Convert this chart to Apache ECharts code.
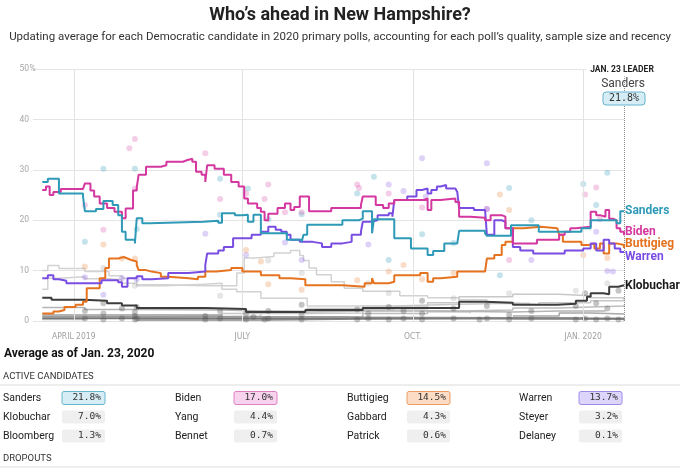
<!DOCTYPE html>
<html><head><meta charset="utf-8">
<script src="https://cdn.jsdelivr.net/npm/echarts@6/dist/echarts.min.js"></script>
<style>html,body{margin:0;padding:0;background:#fff}#c{width:680px;height:472px}</style>
</head><body><div id="c"></div><script>
const xStart = '2019-03-10';
const xEnd = '2020-01-23';
const quarterTicks = ['2019-04-01','2019-07-01','2019-10-01','2020-01-01'];
const quarterLabels = ['APRIL 2019','JULY','OCT.','JAN. 2020'];
const yMax = 50;

const sanders = [['2019-03-15',27.6],['2019-03-18',28.2],['2019-03-24',25.3],['2019-04-06',24.7],['2019-04-07',21.8],['2019-04-13',22.2],['2019-04-17',23.8],['2019-04-22',23.0],['2019-04-25',21.0],['2019-04-27',17.7],['2019-04-29',16.1],['2019-05-04',15.4],['2019-05-05',20.4],['2019-05-08',19.4],['2019-05-12',19.7],['2019-06-10',19.9],['2019-06-18',19.5],['2019-06-20',21.4],['2019-06-27',21.0],['2019-07-01',21.1],['2019-07-04',19.7],['2019-07-07',21.1],['2019-07-11',17.4],['2019-07-25',16.1],['2019-08-02',15.7],['2019-08-03',17.1],['2019-08-05',19.1],['2019-08-24',20.0],['2019-09-02',20.3],['2019-09-04',21.8],['2019-09-09',17.4],['2019-09-10',20.2],['2019-09-21',16.4],['2019-09-30',14.4],['2019-10-09',13.1],['2019-10-12',13.9],['2019-10-18',15.4],['2019-10-25',15.7],['2019-10-26',17.9],['2019-11-09',17.4],['2019-11-10',16.9],['2019-11-23',19.0],['2019-12-08',17.7],['2019-12-31',18.4],['2020-01-05',20.0],['2020-01-19',19.4],['2020-01-21',21.8],['2020-01-23',21.8]];
const biden = [['2019-03-15',26.0],['2019-03-17',26.7],['2019-03-19',25.0],['2019-03-21',25.6],['2019-03-25',26.2],['2019-04-06',26.5],['2019-04-07',27.3],['2019-04-10',25.9],['2019-04-12',24.7],['2019-04-15',23.3],['2019-04-19',22.4],['2019-04-23',21.7],['2019-04-27',20.4],['2019-04-29',22.3],['2019-05-03',25.9],['2019-05-05',26.5],['2019-05-06',29.0],['2019-05-10',30.6],['2019-05-18',30.9],['2019-05-21',31.6],['2019-05-30',31.9],['2019-06-01',32.2],['2019-06-04',31.6],['2019-06-06',29.6],['2019-06-09',29.0],['2019-06-11',27.6],['2019-06-12',30.9],['2019-06-16',30.2],['2019-06-21',29.0],['2019-06-25',27.6],['2019-06-29',26.7],['2019-07-02',24.3],['2019-07-04',23.3],['2019-07-09',22.4],['2019-07-11',21.7],['2019-07-13',20.0],['2019-07-15',21.3],['2019-07-20',22.4],['2019-07-24',23.3],['2019-07-27',22.0],['2019-07-29',22.6],['2019-08-01',24.7],['2019-08-06',21.8],['2019-08-18',22.4],['2019-09-03',23.0],['2019-09-04',24.7],['2019-09-11',23.0],['2019-09-15',22.4],['2019-09-18',23.3],['2019-09-21',24.0],['2019-10-07',24.3],['2019-10-09',22.0],['2019-10-11',24.0],['2019-10-16',24.3],['2019-10-24',23.6],['2019-10-26',20.7],['2019-11-01',20.5],['2019-11-09',20.0],['2019-11-12',21.0],['2019-11-18',20.7],['2019-11-20',18.4],['2019-11-24',15.4],['2019-12-07',16.1],['2019-12-19',17.1],['2019-12-22',17.7],['2019-12-25',18.4],['2019-12-28',18.7],['2020-01-05',21.7],['2020-01-08',21.0],['2020-01-10',20.7],['2020-01-13',22.0],['2020-01-15',20.3],['2020-01-17',20.0],['2020-01-19',18.4],['2020-01-21',17.7],['2020-01-23',17.0]];
const warren = [['2019-03-15',8.5],['2019-03-18',9.1],['2019-03-21',8.3],['2019-03-24',8.0],['2019-03-28',7.5],['2019-04-16',8.1],['2019-04-25',7.7],['2019-04-27',6.8],['2019-04-30',8.5],['2019-05-05',8.9],['2019-05-08',8.3],['2019-05-13',8.5],['2019-05-22',9.5],['2019-06-02',9.8],['2019-06-11',11.1],['2019-06-12',13.4],['2019-06-18',14.0],['2019-06-21',14.7],['2019-06-26',16.4],['2019-07-06',17.1],['2019-07-11',17.7],['2019-07-15',18.7],['2019-07-19',18.1],['2019-07-22',17.7],['2019-07-25',17.1],['2019-07-27',16.1],['2019-08-01',15.7],['2019-08-08',15.4],['2019-08-13',14.7],['2019-08-18',15.4],['2019-08-24',15.7],['2019-08-29',17.1],['2019-09-03',17.7],['2019-09-04',19.7],['2019-09-08',20.0],['2019-09-12',21.0],['2019-09-18',21.4],['2019-09-20',20.7],['2019-09-21',24.0],['2019-09-28',24.7],['2019-10-03',26.0],['2019-10-06',26.3],['2019-10-09',25.3],['2019-10-11',26.0],['2019-10-14',26.7],['2019-10-16',27.0],['2019-10-19',26.3],['2019-10-24',26.0],['2019-10-25',25.6],['2019-10-26',22.4],['2019-11-03',22.0],['2019-11-09',21.7],['2019-11-10',17.1],['2019-11-14',20.0],['2019-11-18',19.7],['2019-11-20',18.4],['2019-11-24',14.7],['2019-11-28',14.0],['2019-12-05',13.4],['2019-12-22',14.0],['2020-01-01',14.4],['2020-01-05',15.4],['2020-01-08',14.0],['2020-01-12',16.1],['2020-01-15',15.4],['2020-01-18',14.4],['2020-01-21',13.7],['2020-01-23',13.7]];
const buttigieg = [['2019-03-15',1.5],['2019-03-21',1.9],['2019-03-24',2.2],['2019-03-27',2.8],['2019-04-02',3.2],['2019-04-06',3.8],['2019-04-08',6.5],['2019-04-15',8.5],['2019-04-18',10.5],['2019-04-20',12.4],['2019-04-25',12.7],['2019-04-28',12.4],['2019-04-30',12.1],['2019-05-02',11.8],['2019-05-05',11.1],['2019-05-06',10.1],['2019-05-10',9.8],['2019-05-13',9.5],['2019-05-18',8.8],['2019-05-22',8.5],['2019-06-02',8.3],['2019-06-07',8.8],['2019-06-11',9.8],['2019-06-17',10.1],['2019-06-25',10.5],['2019-07-01',9.8],['2019-07-11',9.1],['2019-07-21',8.5],['2019-07-27',8.3],['2019-08-04',7.1],['2019-08-24',6.8],['2019-09-05',7.5],['2019-09-09',8.5],['2019-09-10',7.5],['2019-09-18',7.8],['2019-09-21',9.1],['2019-10-05',9.5],['2019-10-09',7.8],['2019-10-12',8.5],['2019-10-16',8.8],['2019-10-25',9.8],['2019-11-09',10.1],['2019-11-10',12.4],['2019-11-14',13.1],['2019-11-18',15.1],['2019-11-20',15.7],['2019-11-24',18.4],['2019-11-30',18.7],['2019-12-09',18.4],['2019-12-18',18.1],['2019-12-19',17.1],['2019-12-21',15.7],['2019-12-31',15.1],['2020-01-04',15.4],['2020-01-07',14.4],['2020-01-10',15.4],['2020-01-12',13.4],['2020-01-15',15.4],['2020-01-19',15.1],['2020-01-23',14.5]];
const klobuchar = [['2019-03-15',4.6],['2019-03-20',4.2],['2019-04-06',4.0],['2019-04-19',3.5],['2019-04-27',3.1],['2019-05-05',2.6],['2019-06-11',2.4],['2019-07-03',1.8],['2019-08-04',2.2],['2019-09-04',2.6],['2019-10-26',3.8],['2019-11-09',3.6],['2019-11-24',3.2],['2019-12-18',3.4],['2019-12-28',4.0],['2020-01-03',4.8],['2020-01-05',5.5],['2020-01-12',5.3],['2020-01-15',6.8],['2020-01-20',7.1],['2020-01-23',7.0]];

const orourke = [['2019-03-15',10.0],['2019-03-18',11.0],['2019-03-24',10.4],['2019-04-07',9.8],['2019-04-20',9.0],['2019-04-27',8.5],['2019-05-05',7.2],['2019-05-20',7.0],['2019-06-10',7.0],['2019-06-20',6.3],['2019-06-28',5.8],['2019-07-11',4.5],['2019-08-05',3.0],['2019-09-04',2.2],['2019-10-09',1.8],['2019-11-01',1.5]];
const harris = [['2019-03-15',6.3],['2019-03-18',8.5],['2019-03-24',8.8],['2019-04-07',8.4],['2019-04-20',8.2],['2019-04-27',7.5],['2019-05-05',7.0],['2019-05-20',7.3],['2019-06-10',7.5],['2019-06-20',7.0],['2019-06-28',9.5],['2019-07-02',12.5],['2019-07-08',12.8],['2019-07-18',13.5],['2019-07-27',14.0],['2019-08-01',13.0],['2019-08-03',12.0],['2019-08-06',10.5],['2019-08-10',9.2],['2019-08-18',7.8],['2019-08-25',6.5],['2019-09-04',5.9],['2019-09-24',5.0],['2019-10-09',4.6],['2019-10-26',4.2],['2019-11-10',3.5],['2019-12-03',3.0]];
const yang = [['2019-03-15',0.3],['2019-04-07',0.8],['2019-05-05',1.0],['2019-06-20',1.5],['2019-07-11',2.0],['2019-08-05',2.5],['2019-09-04',3.0],['2019-09-21',3.3],['2019-10-26',3.5],['2019-11-24',3.2],['2019-12-08',3.6],['2020-01-05',4.0],['2020-01-23',4.4]];
const gabbard = [['2019-03-15',0.8],['2019-05-05',0.9],['2019-06-20',1.0],['2019-07-11',1.5],['2019-08-05',1.6],['2019-09-04',2.3],['2019-09-21',2.8],['2019-10-09',3.6],['2019-10-26',4.8],['2019-11-24',5.3],['2019-12-19',5.0],['2020-01-05',4.6],['2020-01-23',4.3]];
const steyer = [['2019-07-11',0.3],['2019-08-05',0.8],['2019-09-04',1.5],['2019-10-09',2.0],['2019-10-26',2.2],['2019-11-24',2.6],['2019-12-19',2.8],['2020-01-05',3.0],['2020-01-23',3.2]];
const booker = [['2019-03-15',2.7],['2019-04-07',2.3],['2019-05-05',2.2],['2019-06-20',2.0],['2019-07-11',1.8],['2019-08-05',2.0],['2019-09-04',2.0],['2019-10-09',1.8],['2019-11-24',2.0],['2019-12-19',2.0],['2020-01-13',1.9]];
const bloomberg = [['2019-11-24',1.0],['2019-12-19',1.6],['2020-01-05',1.4],['2020-01-23',1.3]];
const bennet = [['2019-05-05',0.2],['2019-07-11',0.4],['2019-09-04',0.6],['2019-11-24',0.5],['2020-01-23',0.7]];
const patrick = [['2019-11-24',0.5],['2020-01-23',0.6]];
const delaney = [['2019-03-15',0.5],['2019-09-04',0.4],['2020-01-23',0.1]];
const castro = [['2019-03-15',0.8],['2019-07-11',0.6],['2020-01-02',0.5]];
const gillibrand = [['2019-03-15',1.2],['2019-06-20',0.8],['2019-08-28',0.5]];

const sandersPolls = [['2019-04-07',15.7],['2019-04-17',30.2],['2019-05-04',30.2],['2019-05-05',18.2],['2019-06-19',28.2],['2019-06-19',21.1],['2019-07-04',26.3],['2019-07-15',20.2],['2019-08-02',21.2],['2019-09-01',25.3],['2019-09-10',28.6],['2019-09-18',12.1],['2019-10-06',17.2],['2019-10-23',15.5],['2019-11-17',9.1],['2019-11-22',26.4],['2019-12-04',20.0],['2020-01-01',27.2],['2020-01-08',23.0],['2020-01-14',29.4]];
const bidenPolls = [['2019-04-07',23.0],['2019-04-17',18.1],['2019-05-01',34.3],['2019-05-04',36.1],['2019-05-04',26.3],['2019-06-11',33.3],['2019-06-19',24.2],['2019-07-03',25.3],['2019-07-13',24.2],['2019-07-15',27.1],['2019-07-24',21.6],['2019-08-02',21.6],['2019-09-01',27.1],['2019-09-02',26.4],['2019-09-18',25.3],['2019-10-06',22.5],['2019-11-10',22.2],['2019-11-22',12.1],['2020-01-02',25.1],['2020-01-08',26.5],['2020-01-10',20.2]];
const warrenPolls = [['2019-04-07',8.7],['2019-04-17',5.2],['2019-04-27',8.5],['2019-05-05',8.3],['2019-06-11',17.3],['2019-07-03',13.1],['2019-07-24',15.6],['2019-08-02',12.1],['2019-09-07',15.2],['2019-09-18',27.1],['2019-09-26',25.8],['2019-10-06',32.3],['2019-10-08',24.7],['2019-11-10',31.3],['2019-11-10',22.2],['2019-12-04',12.1],['2020-01-08',17.7],['2020-01-14',9.9],['2020-01-17',9.8]];
const buttigiegPolls = [['2019-04-07',10.8],['2019-04-17',15.2],['2019-04-27',12.4],['2019-05-04',12.4],['2019-07-03',14.1],['2019-07-11',11.8],['2019-07-15',7.3],['2019-08-02',6.2],['2019-09-01',8.1],['2019-09-18',9.8],['2019-09-26',11.1],['2019-10-06',8.3],['2019-10-23',9.5],['2019-11-17',25.1],['2019-11-22',22.0],['2020-01-01',13.1],['2020-01-14',12.5]];
const otherPolls = [['2019-04-07',0.5],['2019-04-07',2.0],['2019-04-17',0.3],['2019-04-17',1.5],['2019-04-17',3.5],['2019-04-27',0.5],['2019-04-27',2.5],['2019-05-04',0.3],['2019-05-04',1.0],['2019-05-04',1.8],['2019-05-05',0.5],['2019-05-05',2.8],['2019-06-11',0.3],['2019-06-11',1.0],['2019-06-19',0.5],['2019-06-19',2.0],['2019-07-03',0.3],['2019-07-03',1.5],['2019-07-07',0.8],['2019-07-13',0.3],['2019-07-15',0.5],['2019-07-15',2.0],['2019-08-02',0.3],['2019-08-02',1.2],['2019-08-02',3.2],['2019-09-01',0.3],['2019-09-01',2.3],['2019-09-07',0.5],['2019-09-07',1.5],['2019-09-18',0.3],['2019-09-18',2.8],['2019-09-26',0.5],['2019-09-26',2.0],['2019-10-06',0.3],['2019-10-06',1.5],['2019-10-06',4.0],['2019-10-23',0.5],['2019-10-23',2.5],['2019-11-06',0.3],['2019-11-10',0.5],['2019-11-10',3.0],['2019-11-22',0.3],['2019-11-22',1.2],['2019-12-04',0.5],['2019-12-04',2.0],['2019-12-28',0.3],['2019-12-28',3.0],['2020-01-02',0.5],['2020-01-02',5.5],['2020-01-08',0.3],['2020-01-08',3.5],['2020-01-14',0.5],['2020-01-14',2.5],['2020-01-20',0.3],['2020-01-20',6.0]];
const lightPolls = [['2019-04-17',10.5],['2019-05-04',7.0],['2019-06-19',5.0],['2019-07-15',12.0],['2019-08-02',9.5],['2019-09-07',7.5],['2019-09-18',5.5],['2019-10-23',4.5],['2019-11-22',5.5],['2019-12-28',6.0],['2020-01-14',7.5]];

const tableNames = ['Sanders','Biden','Buttigieg','Warren','Klobuchar','Yang','Gabbard','Steyer','Bloomberg','Bennet','Patrick','Delaney'];
const tableValues = [21.8,17.0,14.5,13.7,7.0,4.4,4.3,3.2,1.3,0.7,0.6,0.1];
const leaderName = 'Sanders';
const leaderValue = 21.8;

const C = {sanders:'#2f9ab8', biden:'#d4379f', buttigieg:'#e5731f', warren:'#7a4de2', klobuchar:'#3d3d3d'};
const FILL = {Sanders:['#d6edf5','#66b5cd'], Biden:['#f8d3ee','#df80c6'], Buttigieg:['#fcdcc4','#eb9b63'], Warren:['#ddd5fb','#a08ae8']};

function ts(s){const [y,m,d]=s.split('-').map(Number);return new Date(y,m-1,d).getTime();}
function pts(a){return a.map(p=>[ts(p[0]),p[1]]);}
const qTs = quarterTicks.map(ts);

const chart = echarts.init(document.getElementById('c'), null, {renderer:'canvas'});
const FF = 'Roboto, sans-serif';

function grayLine(name, data, color, w){
  return {name, type:'line', step:'end', data:pts(data), showSymbol:false, symbol:'none', z:1,
    lineStyle:{color, width:w||1.5}, silent:true, animation:false};
}
function mainLine(name, data, color, dy){
  return {name, type:'line', step:'end', data:pts(data), showSymbol:false, symbol:'none', z:5,
    lineStyle:{color, width:2}, silent:true, animation:false,
    endLabel:{show:true, formatter:name, color: name==='Klobuchar' ? '#1a1a1a' : color, fontWeight:'bold', fontSize:12, fontFamily:FF, distance:1, offset:[0,dy]}};
}
function dots(data, color, op){
  return {type:'scatter', data:pts(data), symbolSize:6, z:2, silent:true, animation:false,
    itemStyle:{color, opacity:op}};
}

const option = {
  animation:false,
  backgroundColor:'#fff',
  title:{text:'Who’s ahead in New Hampshire?', subtext:'Updating average for each Democratic candidate in 2020 primary polls, accounting for each poll’s quality, sample size and recency',
    left:'center', top:1, itemGap:7,
    textStyle:{fontFamily:FF, fontWeight:'bold', fontSize:18, color:'#222'},
    subtextStyle:{fontFamily:FF, fontSize:11.5, color:'#333'}},
  grid:{left:33, right:56, top:69, bottom:151},
  xAxis:{type:'time', min:ts(xStart), max:ts(xEnd),
    axisLine:{show:false}, axisTick:{show:false}, splitLine:{show:false},
    axisLabel:{show:false}},
  yAxis:{type:'value', min:0, max:yMax, interval:10,
    axisLine:{show:false}, axisTick:{show:false},
    splitLine:{lineStyle:{color:'#e4e4e4', width:1}},
    axisLabel:{color:'#a8a8a8', fontSize:8.5, fontFamily:FF, margin:4}},
  series:[
    {type:'line', data:[], z:0, silent:true,
      markLine:{silent:true, symbol:'none', animation:false, label:{show:false},
        lineStyle:{color:'#e2e2e2', type:'solid', width:1},
        data:qTs.map(t=>({xAxis:t}))}},
    grayLine('O’Rourke', orourke, '#d2d2d2'),
    grayLine('Harris', harris, '#d2d2d2'),
    grayLine('Yang', yang, '#c8c8c8'),
    grayLine('Gabbard', gabbard, '#c8c8c8'),
    grayLine('Steyer', steyer, '#bdbdbd'),
    grayLine('Booker', booker, '#b5b5b5'),
    grayLine('Bloomberg', bloomberg, '#a8a8a8'),
    grayLine('Bennet', bennet, '#8a8a8a'),
    grayLine('Patrick', patrick, '#8a8a8a'),
    grayLine('Delaney', delaney, '#777'),
    grayLine('Castro', castro, '#8a8a8a'),
    grayLine('Gillibrand', gillibrand, '#9a9a9a'),
    dots(lightPolls, '#9a9a9a', 0.25),
    dots(otherPolls, '#555', 0.35),
    dots(sandersPolls, C.sanders, 0.28),
    dots(bidenPolls, C.biden, 0.25),
    dots(warrenPolls, C.warren, 0.25),
    dots(buttigiegPolls, C.buttigieg, 0.25),
    mainLine('Klobuchar', klobuchar, C.klobuchar, 0),
    mainLine('Buttigieg', buttigieg, C.buttigieg, -4),
    mainLine('Warren', warren, C.warren, 5),
    mainLine('Biden', biden, C.biden, -3),
    Object.assign(mainLine('Sanders', sanders, C.sanders, 0), {
      markLine:{silent:true, symbol:'none', animation:false, label:{show:false},
        lineStyle:{color:'#8a8a8a', type:'dotted', width:1},
        data:[[{coord:[ts(xEnd),0]},{coord:[ts(xEnd),49]}]]}})
  ]
};
chart.setOption(option);

const g = [];
const px = (t,v)=>chart.convertToPixel({xAxisIndex:0, yAxisIndex:0}, [t, v]);
const leaderX = px(ts(xEnd),0)[0];
const y0 = px(ts(xEnd),0)[1];
const y50 = px(ts(xEnd),yMax)[1];
qTs.forEach((t,i)=>{
  g.push({type:'text', x:px(t,0)[0], y:y0+16, style:{text:quarterLabels[i], fill:'#a0a0a0', font:"8.5px 'Liberation Sans Narrow','DejaVu Sans Condensed',Roboto", textAlign:'center', textVerticalAlign:'middle'}});
});
g.push({type:'text', x:29.5, y:y50, style:{text:'%', fill:'#a8a8a8', font:'8.5px Roboto', textAlign:'left', textVerticalAlign:'middle'}});
g.push({type:'text', x:leaderX-2, y:70, z:10, style:{text:'JAN. 23 LEADER', fill:'#222', font:'bold 8.5px Roboto', textAlign:'center', textVerticalAlign:'middle', backgroundColor:'#fff', padding:[2,4]}});
g.push({type:'text', x:leaderX-1, y:84, z:10, style:{text:leaderName, fill:'#444', font:'12px Roboto', textAlign:'center', textVerticalAlign:'middle'}});
g.push({type:'rect', z:10, shape:{x:leaderX-21, y:92, width:42, height:13, r:3}, style:{fill:FILL.Sanders[0], stroke:FILL.Sanders[1], lineWidth:1}});
g.push({type:'text', x:leaderX, y:98.5, z:11, style:{text:leaderValue.toFixed(1)+'%', fill:'#333', font:"10px 'DejaVu Sans Mono'", textAlign:'center', textVerticalAlign:'middle'}});

g.push({type:'text', x:4, y:354, style:{text:'Average as of Jan. 23, 2020', fill:'#111', font:'bold 12px Roboto', textAlign:'left', textVerticalAlign:'middle'}});
g.push({type:'text', x:3, y:377, style:{text:'ACTIVE CANDIDATES', fill:'#333', font:'9.5px Roboto', textAlign:'left', textVerticalAlign:'middle'}});
g.push({type:'line', shape:{x1:0, y1:385, x2:680, y2:385}, style:{stroke:'#dcdcdc', lineWidth:1}});
const colX = [3,175,347,519], boxX = [62,234,407,579], rowY = [398,417,436];
tableNames.forEach((n,i)=>{
  const r = Math.floor(i/4), c = i%4;
  g.push({type:'text', x:colX[c], y:rowY[r], style:{text:n, fill:'#222', font:'10.5px Roboto', textAlign:'left', textVerticalAlign:'middle'}});
  const f = FILL[n];
  g.push({type:'rect', shape:{x:boxX[c], y:rowY[r]-6.5, width:43, height:13, r:2}, style:{fill:f?f[0]:'#efefef', stroke:f?f[1]:null, lineWidth:f?1:0}});
  g.push({type:'text', x:boxX[c]+39, y:rowY[r], style:{text:tableValues[i].toFixed(1)+'%', fill:'#333', font:"9.5px 'DejaVu Sans Mono'", textAlign:'right', textVerticalAlign:'middle'}});
});
g.push({type:'text', x:3, y:459, style:{text:'DROPOUTS', fill:'#333', font:'9.5px Roboto', textAlign:'left', textVerticalAlign:'middle'}});
g.push({type:'line', shape:{x1:0, y1:467, x2:680, y2:467}, style:{stroke:'#dcdcdc', lineWidth:1}});
chart.setOption({graphic:{elements:g}});
</script></body></html>
